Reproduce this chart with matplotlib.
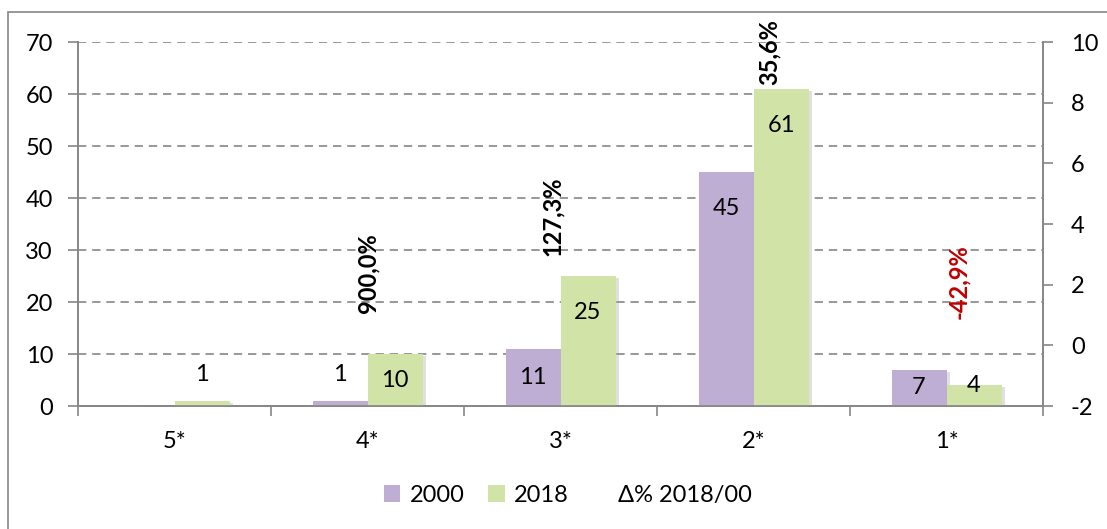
import matplotlib.pyplot as plt
import matplotlib.patheffects as pe
from matplotlib.patches import Patch, Rectangle
from matplotlib.lines import Line2D
import numpy as np

plt.rcParams['font.family'] = ['Lato', 'DejaVu Sans']
plt.rcParams['axes.unicode_minus'] = False

# dati
categorie = ["5*", "4*", "3*", "2*", "1*"]
v2000 = [0, 1, 11, 45, 7]
v2018 = [1, 10, 25, 61, 4]
delta = ["", "900,0%", "127,3%", "35,6%", "-42,9%"]
delta_val = [None, 900.0, 127.3, 35.6, -42.9]

viola = "#BFAED4"
verde = "#D1E3A6"
grigio = "#868686"
fs = 17

fig = plt.figure(figsize=(11.07, 5.29), dpi=100)
ax = fig.add_axes([0.0705, 0.2325, 0.8717, 0.6881])
ax2 = ax.twinx()

# bordo esterno del grafico
fig.patches.append(Rectangle((0.0072, -0.05), 1.1, 1.027, transform=fig.transFigure,
                             fill=False, edgecolor=grigio, linewidth=1.2))

x = np.arange(len(categorie))
w = 0.285
ombra = [pe.SimplePatchShadow(offset=(2.5, -1.5), shadow_rgbFace="#999999", alpha=0.3), pe.Normal()]
b1 = ax.bar(x - w/2, v2000, w, color=viola, zorder=3)
b2 = ax.bar(x + w/2, v2018, w, color=verde, zorder=3)
for b in list(b1) + list(b2):
    if b.get_height() > 0:
        b.set_path_effects(ombra)

# etichette valori
def pos_etichetta(v):
    if v >= 20:
        return v - 7
    if v >= 5:
        return v / 2
    if v > 1:
        return v
    return v + 5

for xs, vals in ((x - w/2, v2000), (x + w/2, v2018)):
    for xi, v in zip(xs, vals):
        if v > 0:
            ax.text(xi, pos_etichetta(v), str(v), ha="center", va="center", fontsize=fs, zorder=5)

# etichette variazione percentuale (posizione a mano, come nell'originale)
pct_x = [0, 0, -0.04, 0.08, 0.06]
pct_y = [0, 25.6, 36.5, 68, 24]
for i, t in enumerate(delta):
    if t:
        col = "#C00000" if delta_val[i] < 0 else "black"
        ax.text(i + pct_x[i], pct_y[i], t, rotation=90, ha="center", va="center",
                fontsize=fs, fontweight="bold", color=col, zorder=6, clip_on=False)

ax.set_xlim(-0.5, len(categorie) - 0.5)
ax.set_ylim(0, 70)
ax.set_yticks(range(0, 71, 10))
ax2.set_ylim(-2, 10)
ax2.set_yticks(range(-2, 11, 2))

ax.set_xticks(x)
ax.set_xticklabels(categorie)
ax.set_xticks(np.arange(-0.5, len(categorie), 1), minor=True)
ax.tick_params(axis="x", which="major", length=0, pad=18, labelsize=fs)
ax.tick_params(axis="x", which="minor", length=7, color=grigio, width=1.2)
ax.tick_params(axis="y", length=7, color=grigio, width=1.2, labelsize=fs, pad=11)
ax2.tick_params(axis="y", length=7, color=grigio, width=1.2, labelsize=fs, pad=13)

ax.yaxis.grid(True, linestyle=(0, (5, 3.5)), color=grigio, linewidth=1.2)
ax.set_axisbelow(True)

for a in (ax, ax2):
    a.spines["top"].set_visible(False)
    for s in ("left", "right", "bottom"):
        a.spines[s].set_color(grigio)
        a.spines[s].set_linewidth(1.2)

maniglie = [Patch(facecolor=viola, label="2000"),
            Patch(facecolor=verde, label="2018"),
            Line2D([], [], color="none", label="Δ% 2018/00")]
fig.legend(handles=maniglie, loc="center", bbox_to_anchor=(0.513, 0.064), ncol=3, frameon=False,
           fontsize=fs, handlelength=0.7, handleheight=0.7, handletextpad=0.4, columnspacing=1.0)

fig.savefig("out.png", dpi=100)
